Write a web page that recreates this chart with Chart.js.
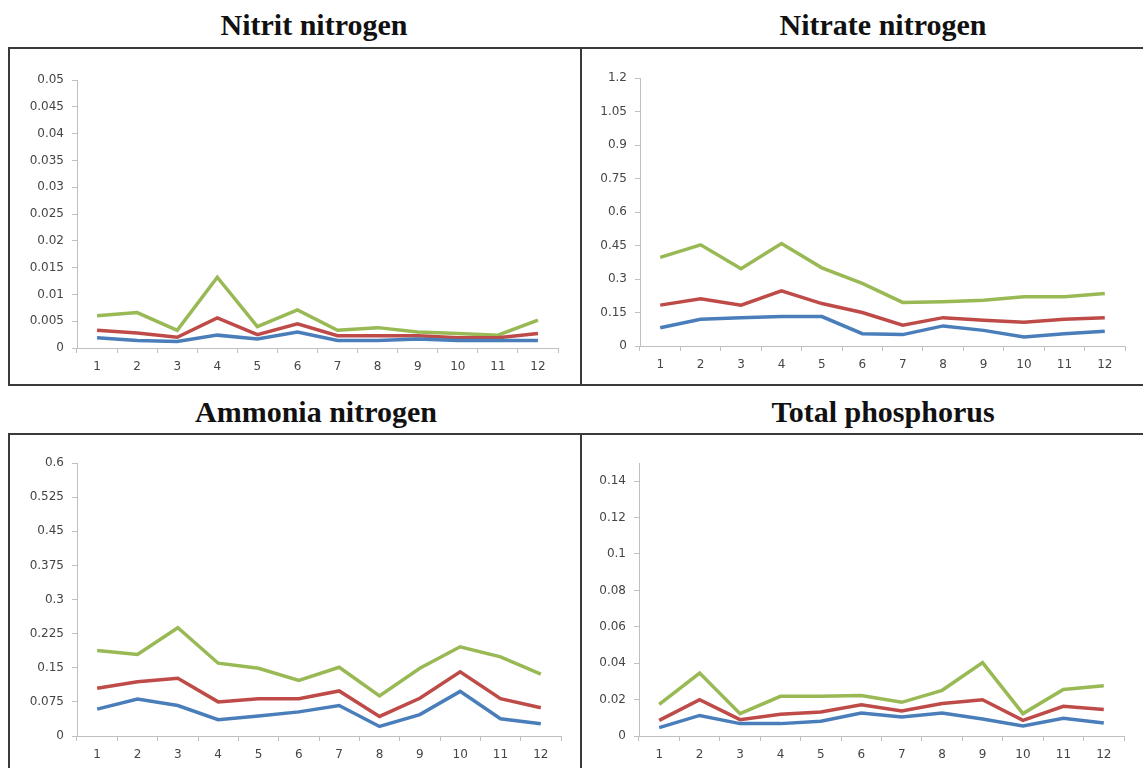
<!DOCTYPE html>
<html>
<head>
<meta charset="utf-8">
<script src="https://cdn.jsdelivr.net/npm/chart.js@4.4.1/dist/chart.umd.min.js"></script>
<style>
  body { margin: 0; background: #fff; width: 1143px; height: 768px; overflow: hidden; position: relative; }
  .title { position: absolute; width: 560px; text-align: center; font: bold 30px "Liberation Serif", "Times New Roman", serif; color: #111; line-height: 30px; }
  .line { position: absolute; background: #3a3a3a; }
  .panel { position: absolute; }
</style>
</head>
<body>
<div class="title" style="left:34px; top:10px;">Nitrit nitrogen</div>
<div class="title" style="left:603px; top:10px;">Nitrate nitrogen</div>
<div class="title" style="left:36px; top:397px;">Ammonia nitrogen</div>
<div class="title" style="left:603px; top:397px;">Total phosphorus</div>

<!-- frames -->
<div class="line" style="left:8px; top:47px; width:1135px; height:2px;"></div>
<div class="line" style="left:8px; top:384px; width:1135px; height:2px;"></div>
<div class="line" style="left:8px; top:47px; width:2px; height:339px;"></div>
<div class="line" style="left:580px; top:47px; width:2px; height:339px;"></div>
<div class="line" style="left:8px; top:433px; width:1135px; height:2px;"></div>
<div class="line" style="left:8px; top:433px; width:2px; height:335px;"></div>
<div class="line" style="left:580px; top:433px; width:2px; height:335px;"></div>

<div class="panel" style="left:10px; top:49px; width:570px; height:335px;"><canvas id="nitritChart"></canvas></div>
<div class="panel" style="left:582px; top:49px; width:561px; height:335px;"><canvas id="nitrateChart"></canvas></div>
<div class="panel" style="left:10px; top:435px; width:570px; height:333px;"><canvas id="ammoniaChart"></canvas></div>
<div class="panel" style="left:582px; top:435px; width:561px; height:333px;"><canvas id="phosphorusChart"></canvas></div>

<script>
const months = ['1', '2', '3', '4', '5', '6', '7', '8', '9', '10', '11', '12'];

// Nitrit nitrogen
const nitritBlue  = [0.0019, 0.0014, 0.0012, 0.0024, 0.0017, 0.0030, 0.0014, 0.0014, 0.0017, 0.0014, 0.0014, 0.0014];
const nitritRed   = [0.0033, 0.0028, 0.0020, 0.0056, 0.0025, 0.0045, 0.0023, 0.0023, 0.0023, 0.0019, 0.0019, 0.0027];
const nitritGreen = [0.0060, 0.0066, 0.0033, 0.0132, 0.0040, 0.0071, 0.0033, 0.0038, 0.0030, 0.0027, 0.0024, 0.0052];
const nitritTicks = [0, 0.005, 0.01, 0.015, 0.02, 0.025, 0.03, 0.035, 0.04, 0.045, 0.05];

// Nitrate nitrogen
const nitrateBlue  = [0.082, 0.120, 0.127, 0.132, 0.132, 0.055, 0.051, 0.090, 0.070, 0.040, 0.055, 0.066];
const nitrateRed   = [0.183, 0.211, 0.183, 0.247, 0.190, 0.150, 0.093, 0.127, 0.115, 0.106, 0.120, 0.126];
const nitrateGreen = [0.397, 0.453, 0.346, 0.459, 0.350, 0.280, 0.195, 0.198, 0.205, 0.220, 0.220, 0.235];
const nitrateTicks = [0, 0.15, 0.3, 0.45, 0.6, 0.75, 0.9, 1.05, 1.2];

// Ammonia nitrogen
const ammoniaBlue  = [0.059, 0.081, 0.067, 0.036, 0.044, 0.053, 0.067, 0.021, 0.047, 0.098, 0.038, 0.027];
const ammoniaRed   = [0.105, 0.119, 0.127, 0.075, 0.082, 0.082, 0.099, 0.043, 0.083, 0.141, 0.082, 0.062];
const ammoniaGreen = [0.188, 0.179, 0.238, 0.160, 0.149, 0.122, 0.151, 0.088, 0.149, 0.196, 0.174, 0.136];
const ammoniaTicks = [0, 0.075, 0.15, 0.225, 0.3, 0.375, 0.45, 0.525, 0.6];

// Total phosphorus
const phosphorusBlue  = [0.0046, 0.0113, 0.0068, 0.0068, 0.0081, 0.0126, 0.0104, 0.0126, 0.0093, 0.0055, 0.0097, 0.0071];
const phosphorusRed   = [0.0086, 0.0199, 0.0090, 0.0119, 0.0132, 0.0172, 0.0137, 0.0178, 0.0199, 0.0086, 0.0163, 0.0145];
const phosphorusGreen = [0.0174, 0.0346, 0.0123, 0.0218, 0.0218, 0.0223, 0.0185, 0.0251, 0.0403, 0.0123, 0.0256, 0.0276];
const phosphorusTicks = [0, 0.02, 0.04, 0.06, 0.08, 0.1, 0.12, 0.14];

const axisGrey = '#bfbfbf';
const labelFont = { family: 'DejaVu Sans', size: 12 };
const labelColor = '#454545';

function drawPanel(id, blue, red, green, ticks, yMax, pad) {
  new Chart(document.getElementById(id), {
    type: 'line',
    data: {
      labels: months,
      datasets: [
        { data: blue,  borderColor: '#4A7EBB', borderWidth: 3.5, pointRadius: 0, tension: 0 },
        { data: red,   borderColor: '#BE4B48', borderWidth: 3.5, pointRadius: 0, tension: 0 },
        { data: green, borderColor: '#98B954', borderWidth: 3.5, pointRadius: 0, tension: 0 }
      ]
    },
    options: {
      responsive: true,
      maintainAspectRatio: false,
      animation: false,
      layout: { padding: pad },
      plugins: { legend: { display: false }, tooltip: { enabled: false } },
      scales: {
        x: {
          offset: true,
          grid: { display: true, offset: true, drawOnChartArea: false, drawTicks: true, tickLength: 5, color: axisGrey },
          border: { color: axisGrey, width: 1 },
          ticks: { font: labelFont, color: labelColor, padding: 7, maxRotation: 0, autoSkip: false },
          afterFit: s => { s.height = 30; }
        },
        y: {
          min: 0,
          max: yMax,
          afterBuildTicks: s => { s.ticks = ticks.map(v => ({ value: v })); },
          grid: { display: true, drawOnChartArea: false, drawTicks: true, tickLength: 5, color: axisGrey },
          border: { color: axisGrey, width: 1 },
          ticks: { font: labelFont, color: labelColor, padding: 8, callback: v => String(parseFloat(v.toFixed(4))) },
          afterFit: s => { s.width = 60; }
        }
      }
    }
  });
}

drawPanel('nitritChart', nitritBlue, nitritRed, nitritGreen, nitritTicks, 0.05, { left: 7, top: 31, right: 22, bottom: 6 });
drawPanel('nitrateChart', nitrateBlue, nitrateRed, nitrateGreen, nitrateTicks, 1.2, { left: -2, top: 29, right: 18, bottom: 8 });
drawPanel('ammoniaChart', ammoniaBlue, ammoniaRed, ammoniaGreen, ammoniaTicks, 0.6, { left: 7, top: 28, right: 19, bottom: 2 });
drawPanel('phosphorusChart', phosphorusBlue, phosphorusRed, phosphorusGreen, phosphorusTicks, 0.15, { left: -3, top: 28, right: 19, bottom: 2 });
</script>
</body>
</html>
